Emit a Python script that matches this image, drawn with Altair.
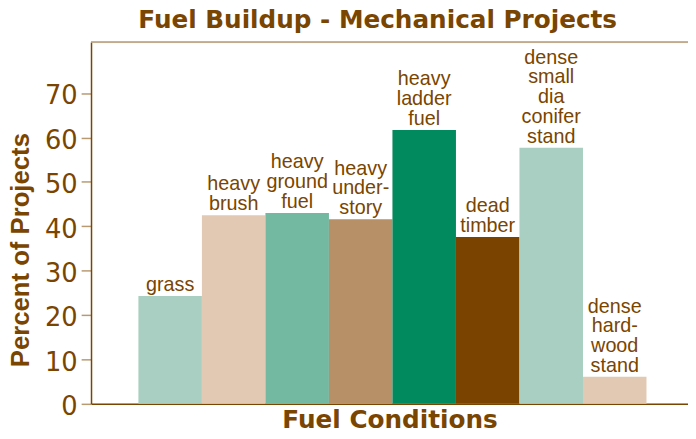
import altair as alt
import pandas as pd

categories = ["grass", "heavy brush", "heavy ground fuel", "heavy understory",
              "heavy ladder fuel", "dead timber", "dense small dia conifer stand",
              "dense hardwood stand"]
labels = ["grass", "heavy\nbrush", "heavy\nground\nfuel", "heavy\nunder-\nstory",
          "heavy\nladder\nfuel", "dead\ntimber", "dense\nsmall\ndia\nconifer\nstand",
          "dense\nhard-\nwood\nstand"]
values = [24.3, 42.5, 43.0, 41.6, 61.7, 37.6, 57.7, 6.1]
colors = ["#a8cfc1", "#e2c9b4", "#73b8a1", "#b89067", "#008a5d", "#7a4400",
          "#a8cfc1", "#e2c9b4"]
y_ticks = [0, 10, 20, 30, 40, 50, 60, 70]

BROWN = "#7a4500"
TAN = "#b89a72"
LINE_H = 20

df = pd.DataFrame({"cat": categories, "value": values})

# one row per label line, k = line index counted from the bottom
rows = []
for c, v, lab in zip(categories, values, labels):
    parts = lab.split("\n")
    n = len(parts)
    for i, p in enumerate(parts):
        rows.append({"cat": c, "value": v, "line": p, "k": n - 1 - i})
ldf = pd.DataFrame(rows)
max_lines = int(ldf["k"].max()) + 1

W, H = 604, 366

x_enc = alt.X("cat:N", sort=categories,
              scale=alt.Scale(paddingInner=0, paddingOuter=0.7, align=0.533),
              axis=alt.Axis(title="Fuel Conditions", labels=False, ticks=False,
                            domainColor=BROWN, domainWidth=1.5,
                            titleFont="DejaVu Sans", titleFontWeight="bold",
                            titleFontSize=25, titleColor=BROWN,
                            titleBaseline="alphabetic", titleY=24))

bars = alt.Chart(df).mark_bar().encode(
    x=x_enc,
    y=alt.Y("value:Q",
            scale=alt.Scale(domain=[0, 81.5], nice=False, zero=True),
            axis=alt.Axis(title="Percent of Projects", values=y_ticks, grid=False,
                          domainColor=BROWN, domainWidth=1.5,
                          tickColor=TAN, tickSize=10, tickWidth=1.5,
                          labelFont="DejaVu Sans", labelFontSize=26,
                          labelColor=BROWN, labelPadding=4, labelOffset=3,
                          titleFont="Liberation Sans", titleFontWeight="bold",
                          titleFontSize=26, titleColor=BROWN,
                          titleBaseline="alphabetic", titleAlign="center",
                          titleAngle=270, titleX=-63, titleY=210)),
    color=alt.Color("cat:N", scale=alt.Scale(domain=categories, range=colors),
                    legend=None),
)

text_layers = []
for k in range(max_lines):
    text_layers.append(
        alt.Chart(ldf).transform_filter(alt.datum.k == k).mark_text(
            font="Liberation Sans", fontSize=20, baseline="alphabetic",
            align="center", dy=-5 - LINE_H * k, color=BROWN,
        ).encode(
            x=alt.X("cat:N", sort=categories),
            y=alt.Y("value:Q"),
            text="line:N",
        )
    )

top_rule = alt.Chart(pd.DataFrame({"a": [0]})).mark_rule(
    color=TAN, strokeWidth=1.5
).encode(y=alt.value(0), x=alt.value(0), x2=alt.value(W))

chart = alt.layer(bars, *text_layers, top_rule).properties(
    width=W, height=H,
    title=alt.TitleParams(
        "Fuel Buildup - Mechanical Projects",
        font="DejaVu Sans", fontWeight="bold", fontSize=25, color=BROWN,
        anchor="middle", baseline="alphabetic", offset=13, dx=-12, dy=25,
    ),
    autosize=alt.AutoSizeParams(type="none"),
    padding={"left": 84, "top": 32, "right": 0, "bottom": 25},
).configure_view(strokeWidth=0).configure(background="white")

chart.save("out.html", embed_options={"renderer": "svg", "actions": False})
